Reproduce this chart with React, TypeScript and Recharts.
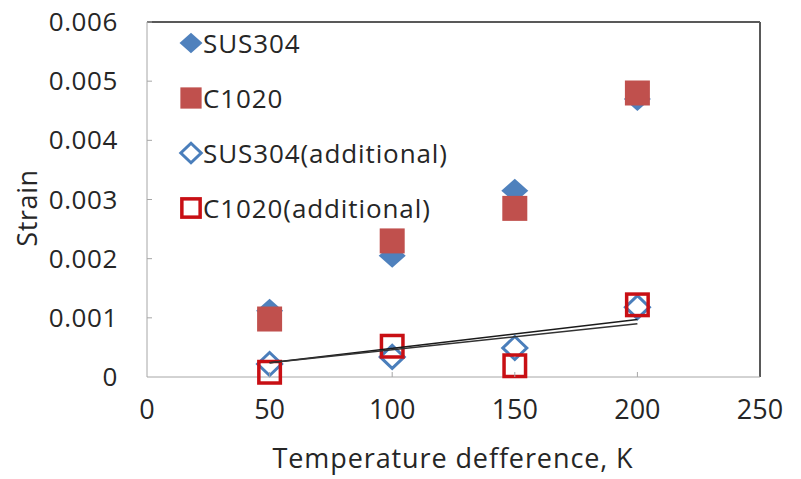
import { ScatterChart, Scatter, XAxis, YAxis, ReferenceLine, Legend } from "recharts";

const TEMP_DIFF = [50, 100, 150, 200];
const SUS304 = [0.00112, 0.00205, 0.00315, 0.0047];
const C1020 = [0.00098, 0.0023, 0.00285, 0.0048];
const SUS304_ADD = [0.00022, 0.00034, 0.00049, 0.00118];
const C1020_ADD = [0.00008, 0.00052, 0.00019, 0.00122];

const TREND_X = [50, 200];
const TREND_A = [0.00024, 0.00097];
const TREND_B = [0.00024, 0.0009];

const X_TICKS = [0, 50, 100, 150, 200, 250];
const Y_TICKS = [0, 0.001, 0.002, 0.003, 0.004, 0.005, 0.006];
const SERIES_NAMES = ["SUS304", "C1020", "SUS304(additional)", "C1020(additional)"];

const BLUE = "#4f81bd";
const RED = "#c0504d";
const BLUE_LINE = "#4a7ebb";
const RED_LINE = "#c80f14";
const FONT = "'Open Sans', sans-serif";
const TEXT = "#262626";

const toPoints = (xs: number[], ys: number[]) => xs.map((x, i) => ({ x, y: ys[i] }));

function Diamond({ cx, cy, w, h, fill, stroke, sw }: any) {
  const pts = `${cx},${cy - h / 2} ${cx + w / 2},${cy} ${cx},${cy + h / 2} ${cx - w / 2},${cy}`;
  return <polygon points={pts} fill={fill} stroke={stroke ?? "none"} strokeWidth={sw ?? 0} />;
}

function Square({ cx, cy, s, fill, stroke, sw }: any) {
  return (
    <rect x={cx - s / 2} y={cy - s / 2} width={s} height={s} fill={fill} stroke={stroke ?? "none"} strokeWidth={sw ?? 0} />
  );
}

const marker = (i: number, cx: number, cy: number, small = false) => {
  const k = small ? 0.85 : 1;
  if (i === 0) return <Diamond cx={cx} cy={cy} w={27 * k} h={24 * k} fill={BLUE} />;
  if (i === 1) return <Square cx={cx} cy={cy} s={25 * k} fill={RED} />;
  if (i === 2) return <Diamond cx={cx} cy={cy} w={24 * k} h={23 * k} fill="none" stroke={BLUE_LINE} sw={3} />;
  return <Square cx={cx} cy={cy} s={21.5 * k} fill="none" stroke={RED_LINE} sw={3.5} />;
};

function XTick({ x, y, payload }: any) {
  const v = payload.value;
  return (
    <g>
      {v > 0 && v < 250 && <line x1={x} x2={x} y1={y} y2={y - 5} stroke="#a6a6a6" />}
      <text x={x} y={y + 42} textAnchor="middle" fontFamily={FONT} fontSize={27} fill={TEXT}>
        {v}
      </text>
    </g>
  );
}

function YTick({ x, y, payload }: any) {
  const v = payload.value;
  return (
    <g>
      {v > 0 && <line x1={x} x2={x + 5} y1={y} y2={y} stroke="#a6a6a6" />}
      <text x={x - 29} y={y + 9} textAnchor="end" fontFamily={FONT} fontSize={26} fill={TEXT} letterSpacing={0.6}>
        {v === 0 ? "0" : v.toFixed(3)}
      </text>
    </g>
  );
}

function LegendBox() {
  const rows = [43, 98, 153, 208];
  return (
    <svg width={320} height={230}>
      {SERIES_NAMES.map((name, i) => (
        <g key={name}>
          {marker(i, 31, rows[i] - 20, true)}
          <text x={43} y={rows[i] - 20 + 10} fontFamily={FONT} fontSize={26} fill={TEXT} letterSpacing={0.9}>
            {name}
          </text>
        </g>
      ))}
    </svg>
  );
}

export default function App() {
  const series = [SUS304, C1020, SUS304_ADD, C1020_ADD];
  return (
    <div style={{ position: "absolute", left: 0, top: 0, width: 801, height: 479, background: "#fff" }}>
      <ScatterChart width={801} height={479} margin={{ top: 22, right: 41, left: 0, bottom: 0 }}>
        <XAxis
          type="number"
          dataKey="x"
          domain={[0, 250]}
          ticks={X_TICKS}
          height={102}
          tickSize={0}
          tickMargin={0}
          tick={<XTick />}
          stroke="#a6a6a6"
          label={{
            value: "Temperature defference, K",
            content: ({ value }: any) => (
              <text x={453} y={468} textAnchor="middle" fontFamily={FONT} fontSize={27} fill={TEXT} letterSpacing={0.9}>
                {value}
              </text>
            ),
          }}
        />
        <YAxis
          type="number"
          dataKey="y"
          domain={[0, 0.006]}
          ticks={Y_TICKS}
          width={147}
          tickSize={0}
          tickMargin={0}
          tick={<YTick />}
          stroke="#a6a6a6"
          label={{
            value: "Strain",
            content: ({ value }: any) => (
              <text
                x={26}
                y={208}
                transform="rotate(-90 26 208)"
                textAnchor="middle"
                dominantBaseline="central"
                fontFamily={FONT}
                fontSize={27}
                fill={TEXT}
                letterSpacing={0.6}
              >
                {value}
              </text>
            ),
          }}
        />
        <ReferenceLine y={0.006} stroke="#595959" strokeWidth={2} />
        <ReferenceLine x={250} stroke="#595959" strokeWidth={2} />
        {series.map((ys, i) => (
          <Scatter
            key={SERIES_NAMES[i]}
            name={SERIES_NAMES[i]}
            data={toPoints(TEMP_DIFF, ys)}
            isAnimationActive={false}
            shape={(p: any) => marker(i, p.cx, p.cy)}
          />
        ))}
        <Scatter
          data={toPoints(TREND_X, TREND_A)}
          line={{ stroke: "#1a1a1a", strokeWidth: 1.5 }}
          shape={() => <g />}
          isAnimationActive={false}
        />
        <Scatter
          data={toPoints(TREND_X, TREND_B)}
          line={{ stroke: "#333", strokeWidth: 1.5 }}
          shape={() => <g />}
          isAnimationActive={false}
        />
        <Legend
          layout="vertical"
          align="center"
          verticalAlign="middle"
          content={() => <LegendBox />}
          wrapperStyle={{ left: 160, top: 20, width: 320, height: 230 }}
        />
      </ScatterChart>
    </div>
  );
}
